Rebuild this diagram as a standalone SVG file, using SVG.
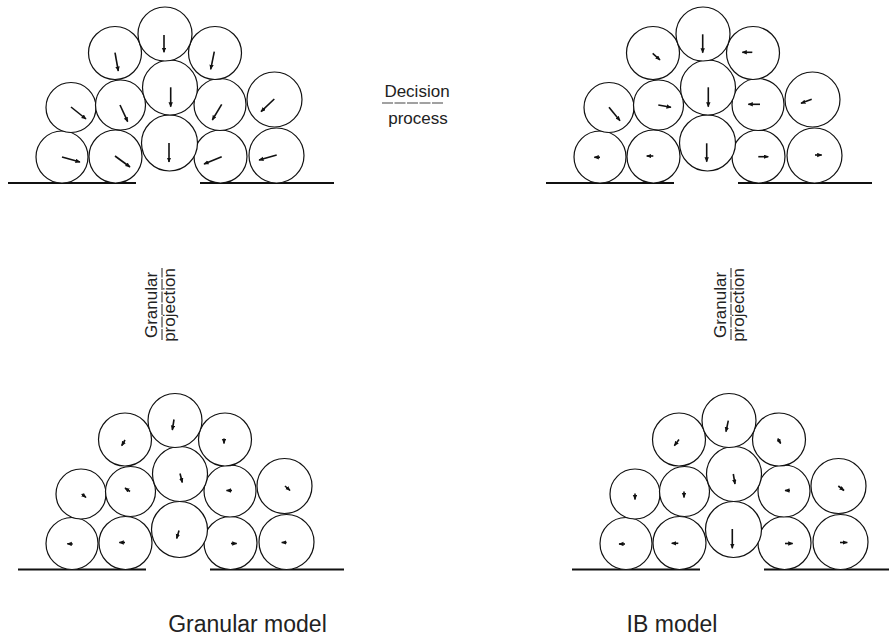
<svg xmlns="http://www.w3.org/2000/svg" xmlns:xlink="http://www.w3.org/1999/xlink" width="889" height="644" viewBox="0 0 889 644">
<style>
.c{fill:#fff;stroke:#111;stroke-width:1.2}
.g{stroke:#111;stroke-width:2.2}
.a{stroke:#111;stroke-width:1.6;fill:none;marker-end:url(#h)}
.t{font-family:"Liberation Sans",Arial,sans-serif;fill:#222}
.f{stroke:#444;stroke-width:1.2;stroke-dasharray:11 1.5}
</style>
<defs>
<marker id="h" markerUnits="userSpaceOnUse" markerWidth="6" markerHeight="5" refX="4.5" refY="2.2" orient="auto"><path d="M0,0 L5,2.2 L0,4.4 z" fill="#111"/></marker>
<g id="pile">
<line class="g" x1="8" y1="183" x2="136" y2="183"/>
<line class="g" x1="200" y1="183" x2="334" y2="183"/>
<circle class="c" cx="62" cy="157" r="26"/>
<circle class="c" cx="115.5" cy="156.5" r="26.5"/>
<circle class="c" cx="220.5" cy="156.5" r="26.5"/>
<circle class="c" cx="276.5" cy="155.5" r="27.5"/>
<circle class="c" cx="169.5" cy="143" r="28"/>
<circle class="c" cx="71" cy="107.5" r="25"/>
<circle class="c" cx="120.5" cy="105" r="25"/>
<circle class="c" cx="220" cy="104.5" r="26"/>
<circle class="c" cx="274.5" cy="99.5" r="27.5"/>
<circle class="c" cx="170" cy="87.5" r="27.5"/>
<circle class="c" cx="115" cy="53" r="26.5"/>
<circle class="c" cx="215" cy="53" r="26.5"/>
<circle class="c" cx="165" cy="34" r="27"/>
</g>
</defs>

<g id="granular-before">
<use xlink:href="#pile" href="#pile"/>
<path class="a" d="M62,157 L80,162"/>
<path class="a" d="M115,156 L130,167"/>
<path class="a" d="M169,143 L169,162"/>
<path class="a" d="M221.7,156.7 L204,164"/>
<path class="a" d="M276.7,155 L259,160"/>
<path class="a" d="M71,107 L86,119"/>
<path class="a" d="M120,105 L127.7,121.7"/>
<path class="a" d="M170.7,87.3 L170.7,106.7"/>
<path class="a" d="M221.7,104.3 L212.3,120"/>
<path class="a" d="M274.3,99 L261,111.7"/>
<path class="a" d="M115,52.7 L118.3,71"/>
<path class="a" d="M164,35 L164,52.3"/>
<path class="a" d="M214.3,51.7 L210.7,69.3"/>
</g>

<g id="ib-before" transform="translate(538,0)">
<use xlink:href="#pile" href="#pile"/>
<path class="a" d="M62,157.3 L56.3,157.3"/>
<path class="a" d="M115.3,156 L108.7,156"/>
<path class="a" d="M168.7,143.3 L168.7,161.7"/>
<path class="a" d="M220.3,156.7 L230.3,156.7"/>
<path class="a" d="M277,155 L283.7,155"/>
<path class="a" d="M71,107.3 L82,120.7"/>
<path class="a" d="M120.3,105 L133,107.3"/>
<path class="a" d="M170.3,87.3 L170.3,106.7"/>
<path class="a" d="M222,104.3 L210.3,104.3"/>
<path class="a" d="M273.7,99.3 L263,103.3"/>
<path class="a" d="M114.7,53.3 L122,60"/>
<path class="a" d="M164.7,34.3 L164.7,52.7"/>
<path class="a" d="M214.3,52.3 L204.3,52.3"/>
</g>

<g id="granular-after" transform="translate(10,386.5)">
<use xlink:href="#pile" href="#pile"/>
<path class="a" d="M62.7,157.5 L57.3,157.3"/>
<path class="a" d="M115,156 L109.3,156"/>
<path class="a" d="M169,144 L166.7,152"/>
<path class="a" d="M221,157 L226.7,157"/>
<path class="a" d="M276.7,156 L271.7,156"/>
<path class="a" d="M71.7,107.5 L76,111"/>
<path class="a" d="M120,105 L115,101.5"/>
<path class="a" d="M170,87 L172.3,96"/>
<path class="a" d="M222,104 L216.5,104"/>
<path class="a" d="M275,99.5 L280,104"/>
<path class="a" d="M115,53.5 L111.7,59.2"/>
<path class="a" d="M164,33 L162.3,43.5"/>
<path class="a" d="M214,52 L214,57"/>
</g>

<g id="ib-after" transform="translate(564,386.5)">
<use xlink:href="#pile" href="#pile"/>
<path class="a" d="M61,157.5 L55,157.5"/>
<path class="a" d="M114.3,156.8 L107.7,156.8"/>
<path class="a" d="M168.3,142.5 L168.3,161.8"/>
<path class="a" d="M221,157 L228.7,157"/>
<path class="a" d="M276,156 L283.3,156"/>
<path class="a" d="M71,107 L71,113"/>
<path class="a" d="M120,105 L120,111"/>
<path class="a" d="M169.3,87.5 L171,97.5"/>
<path class="a" d="M226,104 L221,104"/>
<path class="a" d="M274.3,99.5 L280,104"/>
<path class="a" d="M115,53 L110.3,59.2"/>
<path class="a" d="M164.3,34.2 L162,45.2"/>
<path class="a" d="M213.7,52 L216.7,57"/>
</g>

<g id="decision-process">
<text class="t" x="417" y="97" font-size="17" text-anchor="middle">Decision</text>
<line class="f" x1="382" y1="103" x2="443" y2="103"/>
<text class="t" x="418" y="124" font-size="17" text-anchor="middle">process</text>
</g>

<g id="projection-left" transform="translate(162,305) rotate(-90)">
<text class="t" x="0" y="-5" font-size="17" text-anchor="middle">Granular</text>
<line class="f" x1="-35" y1="0" x2="37" y2="0"/>
<text class="t" x="0" y="13" font-size="17" text-anchor="middle">projection</text>
</g>

<g id="projection-right" transform="translate(731,305) rotate(-90)">
<text class="t" x="0" y="-5" font-size="17" text-anchor="middle">Granular</text>
<line class="f" x1="-35" y1="0" x2="37" y2="0"/>
<text class="t" x="0" y="13" font-size="17" text-anchor="middle">projection</text>
</g>

<text class="t" x="247.5" y="632" font-size="23" text-anchor="middle">Granular model</text>
<text class="t" x="672" y="632" font-size="23" text-anchor="middle">IB model</text>
</svg>
